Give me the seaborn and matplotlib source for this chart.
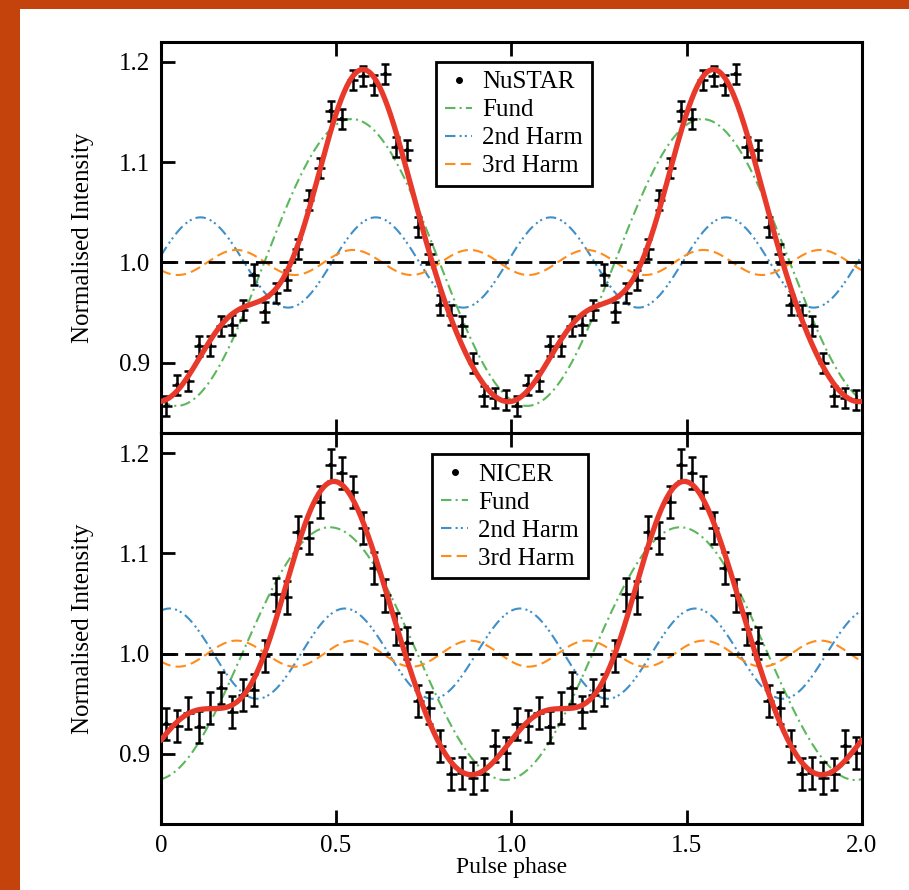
import numpy as np
import pandas as pd
import matplotlib
matplotlib.use("Agg")
import matplotlib.pyplot as plt
from matplotlib.lines import Line2D
from matplotlib.patches import Rectangle
import seaborn as sns

# phase bins of one cycle (32 bins), profile is shown twice
phase_bins = (np.arange(32) + 0.5) / 32

nustar_rate = [0.857, 0.878, 0.882, 0.917, 0.917, 0.937, 0.938, 0.953,
               0.988, 0.951, 0.970, 0.983, 1.013, 1.062, 1.094, 1.151,
               1.143, 1.182, 1.186, 1.177, 1.188, 1.115, 1.112, 1.035,
               1.008, 0.958, 0.948, 0.937, 0.900, 0.867, 0.865, 0.863]
nustar_err = 0.010

nicer_rate = [0.930, 0.928, 0.941, 0.927, 0.946, 0.966, 0.942, 0.959,
              0.964, 0.998, 1.059, 1.056, 1.121, 1.115, 1.151, 1.188,
              1.180, 1.161, 1.125, 1.085, 1.058, 1.025, 1.011, 0.953,
              0.946, 0.908, 0.880, 0.881, 0.876, 0.880, 0.908, 0.901]
nicer_err = 0.016

# harmonic components as drawn: amplitude, phase of maximum
nustar_amp = [0.143, 0.045, 0.0125]
nustar_peak = [0.545, 0.113, 0.215]
nicer_amp = [0.126, 0.045, 0.013]
nicer_peak = [0.482, 0.025, 0.216]

comp_labels = ["Fund", "2nd Harm", "3rd Harm"]
comp_colors = ["#5cb85c", "#3f8fc8", "#ff8c1a"]
comp_styles = [(0, (5, 2, 1, 2)), (0, (5, 2, 1, 1.5, 1, 2)), (0, (5, 2.5))]


def fourier_fit(ph, y, grid, nharm=3):
    # least squares fit of the profile with a constant plus nharm harmonics
    cols = [np.ones_like(ph)]
    gcols = [np.ones_like(grid)]
    for k in range(1, nharm + 1):
        cols += [np.cos(2 * np.pi * k * ph), np.sin(2 * np.pi * k * ph)]
        gcols += [np.cos(2 * np.pi * k * grid), np.sin(2 * np.pi * k * grid)]
    coef, *_ = np.linalg.lstsq(np.array(cols).T, np.asarray(y), rcond=None)
    return np.array(gcols).T @ coef


sns.set_theme(style="ticks")
plt.rcParams['font.family'] = ['Liberation Serif', 'DejaVu Serif']
plt.rcParams.update({'text.color': 'black', 'axes.labelcolor': 'black',
                     'xtick.color': 'black', 'ytick.color': 'black'})

fig = plt.figure(figsize=(9.09, 8.90), dpi=100, facecolor="#c4430d")
fig.patches.append(Rectangle((20 / 909, 0), 1, 1 - 9 / 890, transform=fig.transFigure,
                             facecolor="white", edgecolor="none", zorder=-10))
gs = fig.add_gridspec(2, 1, left=0.177, right=0.948, top=0.953, bottom=0.074, hspace=0)
axes = [fig.add_subplot(gs[0]), fig.add_subplot(gs[1])]

grid = np.linspace(0, 2, 801)
panels = [("NuSTAR", nustar_rate, nustar_err, nustar_amp, nustar_peak, (0.504, 0.948)),
          ("NICER", nicer_rate, nicer_err, nicer_amp, nicer_peak, (0.498, 0.945))]

for ax, (name, rate, err, amp, peak, legpos) in zip(axes, panels):
    ax.set_facecolor("white")
    ph = np.concatenate([phase_bins, phase_bins + 1])
    y = np.concatenate([rate, rate])
    df = pd.DataFrame({"phase": ph, "rate": y})

    for k in range(3):
        comp = 1 + amp[k] * np.cos(2 * np.pi * (k + 1) * (grid - peak[k]))
        sns.lineplot(x=grid, y=comp, ax=ax, color=comp_colors[k],
                     linestyle=comp_styles[k], linewidth=1.5, zorder=2)

    ax.axhline(1.0, color="black", linestyle=(0, (6, 2.5)), linewidth=2, zorder=3)

    ax.errorbar(df["phase"], df["rate"], xerr=1 / 64, fmt="none", ecolor="black",
                elinewidth=1.8, capsize=0, zorder=4)
    ax.errorbar(df["phase"], df["rate"], yerr=err, fmt="none", ecolor="black",
                elinewidth=1.8, capsize=3, capthick=1.8, zorder=4)
    sns.scatterplot(data=df, x="phase", y="rate", ax=ax, color="black", s=10,
                    edgecolor="none", zorder=5)

    model = fourier_fit(phase_bins, rate, grid)
    sns.lineplot(x=grid, y=model, ax=ax, color="#e8392b", linewidth=3.8, zorder=6)

    ax.set_xlim(0, 2)
    ax.set_ylim(0.83, 1.22)
    ax.set_yticks([0.9, 1.0, 1.1, 1.2])
    ax.set_yticklabels(["0.9", "1.0", "1.1", "1.2"])
    ax.set_xticks([0, 0.5, 1.0, 1.5, 2.0])
    ax.tick_params(direction="in", length=10, width=2, top=True, right=False,
                   labelsize=18, pad=8, colors="black")
    for sp in ax.spines.values():
        sp.set_linewidth(2.2)
        sp.set_color("black")
    ax.set_ylabel("Normalised Intensity", fontsize=18, labelpad=18, color="black")
    ax.set_xlabel("")

    handles = [Line2D([], [], color="black", marker=".", markersize=8, linestyle="none")]
    handles += [Line2D([], [], color=c, linestyle=s, linewidth=1.5)
                for c, s in zip(comp_colors, comp_styles)]
    leg = ax.legend(handles, [name] + comp_labels, loc="upper center",
                    bbox_to_anchor=legpos, borderaxespad=0, fontsize=18,
                    frameon=True, fancybox=False, framealpha=1, edgecolor="black",
                    handlelength=1.1, labelspacing=0.22, borderpad=0.35,
                    handletextpad=0.4, labelcolor="black")
    leg.get_frame().set_linewidth(2)

axes[0].tick_params(labelbottom=False)
axes[1].set_xticklabels(["0", "0.5", "1.0", "1.5", "2.0"])
axes[1].tick_params(axis="x", pad=8)
axes[1].set_xlabel("Pulse phase", fontsize=17, labelpad=0, color="black")

fig.savefig("out.png", dpi=100, facecolor=fig.get_facecolor())
